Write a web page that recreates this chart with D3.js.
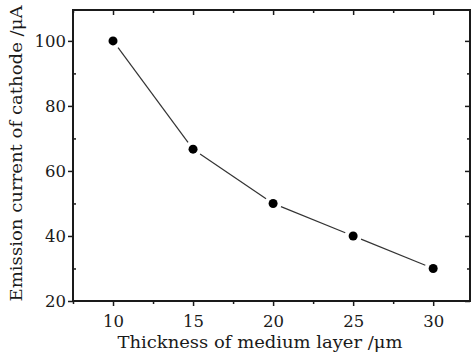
<!DOCTYPE html>
<html><head><meta charset="utf-8">
<script src="https://cdn.jsdelivr.net/npm/d3@7"></script>
<style>body{margin:0;background:#fff}svg{display:block}</style>
</head><body>
<svg id="c" width="472" height="356"></svg>
<script>
const thickness = [10, 15, 20, 25, 30];
const current = [100, 66.7, 50, 40, 30];
const xTicks = [10, 15, 20, 25, 30];
const yTicks = [20, 40, 60, 80, 100];
const xTitle = "Thickness of medium layer /μm";
const yTitle = "Emission current of cathode /μA";

const svg = d3.select("#c");
const L = 73, R = 470, T = 10, B = 301;
const x = d3.scaleLinear().domain([7.5, 32.3]).range([L, R]);
const y = d3.scaleLinear().domain([20, 109.5]).range([B, T]);
const font = "'DejaVu Serif', serif";
const ink = "#1a1a1a";

const xMinor = d3.range(7.5, 32.4, 2.5).filter(v => !xTicks.includes(v));
const yMinor = d3.range(30, 110, 20);

function ticks(g) { g.selectAll("path").remove(); g.selectAll("line").attr("stroke", ink).attr("stroke-width", 1.5); }

// bottom (outward)
svg.append("g").attr("transform", `translate(0,${B})`)
  .call(d3.axisBottom(x).tickValues(xTicks).tickSize(5).tickPadding(9).tickFormat(d3.format("d")))
  .call(ticks).selectAll("text").attr("font-family", font).attr("font-size", 16.5).attr("fill", ink);
svg.append("g").attr("transform", `translate(0,${B})`)
  .call(d3.axisBottom(x).tickValues(xMinor).tickSize(3).tickFormat("")).call(ticks);
// top (inward)
svg.append("g").attr("transform", `translate(0,${T})`)
  .call(d3.axisBottom(x).tickValues(xTicks).tickSize(5).tickFormat("")).call(ticks);
svg.append("g").attr("transform", `translate(0,${T})`)
  .call(d3.axisBottom(x).tickValues(xMinor).tickSize(3).tickFormat("")).call(ticks);
// left (major outward, minor inward)
svg.append("g").attr("transform", `translate(${L},0)`)
  .call(d3.axisLeft(y).tickValues(yTicks).tickSize(5).tickPadding(2).tickFormat(d3.format("d")))
  .call(ticks).selectAll("text").attr("font-family", font).attr("font-size", 16.5).attr("fill", ink);
svg.append("g").attr("transform", `translate(${L},0)`)
  .call(d3.axisRight(y).tickValues(yMinor).tickSize(3).tickFormat("")).call(ticks);
// right (inward)
svg.append("g").attr("transform", `translate(${R},0)`)
  .call(d3.axisLeft(y).tickValues(yTicks).tickSize(5).tickFormat("")).call(ticks);
svg.append("g").attr("transform", `translate(${R},0)`)
  .call(d3.axisLeft(y).tickValues(yMinor).tickSize(3).tickFormat("")).call(ticks);

// frame
svg.append("rect").attr("x", L).attr("y", T).attr("width", R - L).attr("height", B - T)
  .attr("fill", "none").attr("stroke", ink).attr("stroke-width", 2);

// line segments with gaps near markers
const pts = thickness.map((t, i) => [x(t), y(current[i])]);
const gap = 8.5;
const segs = d3.pairs(pts).map(([a, b]) => {
  const dx = b[0] - a[0], dy = b[1] - a[1], len = Math.hypot(dx, dy);
  const ux = dx / len, uy = dy / len;
  return [[a[0] + ux * gap, a[1] + uy * gap], [b[0] - ux * gap, b[1] - uy * gap]];
});
svg.selectAll("line.seg").data(segs).join("line").attr("class", "seg")
  .attr("x1", d => d[0][0]).attr("y1", d => d[0][1]).attr("x2", d => d[1][0]).attr("y2", d => d[1][1])
  .attr("stroke", "#333").attr("stroke-width", 1.2);

svg.selectAll("circle").data(pts).join("circle")
  .attr("cx", d => d[0]).attr("cy", d => d[1]).attr("r", 4.5).attr("fill", "#000");

svg.append("text").attr("x", 260).attr("y", 348).attr("text-anchor", "middle")
  .attr("font-family", font).attr("font-size", 16).attr("fill", ink)
  .attr("textLength", 285).attr("lengthAdjust", "spacingAndGlyphs").text(xTitle);
svg.append("text").attr("transform", `translate(22,153.5) rotate(-90)`).attr("text-anchor", "middle")
  .attr("font-family", font).attr("font-size", 16.5).attr("fill", ink)
  .attr("textLength", 296).attr("lengthAdjust", "spacingAndGlyphs").text(yTitle);
</script>
</body></html>
